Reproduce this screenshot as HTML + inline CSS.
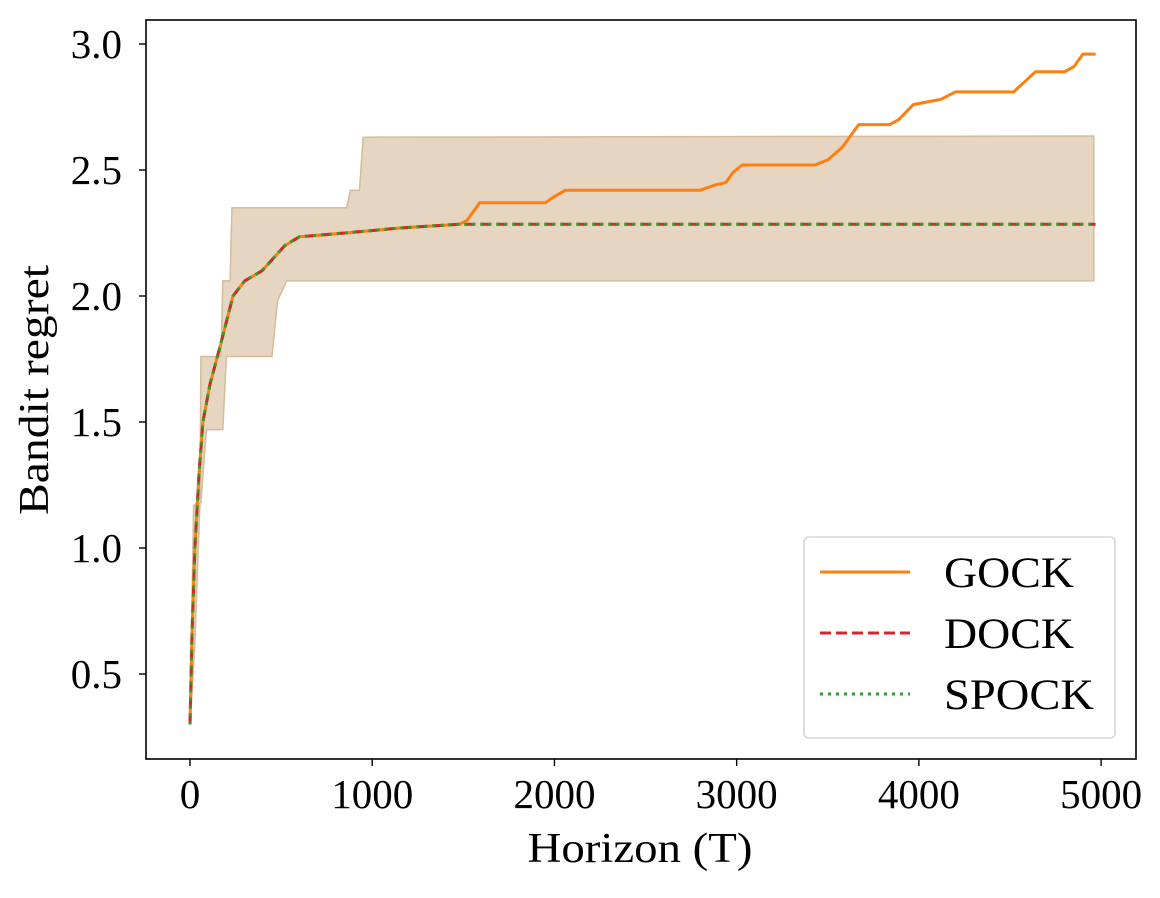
<!DOCTYPE html>
<html><head><meta charset="utf-8"><style>
body{margin:0;background:#fff;}
svg text{font-family:"Liberation Serif",serif;fill:#000;}
</style></head><body>
<svg id="chart" width="1160" height="893" viewBox="0 0 1160 893" xmlns="http://www.w3.org/2000/svg">
<g id="plot"></g>
</svg>
<script>
const xTicks=[0,1000,2000,3000,4000,5000];
const yTicks=[0.5,1.0,1.5,2.0,2.5,3.0];
const meanT=[0,11,27,50,71,110,165,236,300,395,520,600,850,1150,1480,4970];
const meanV=[0.30,0.66,1.0,1.30,1.5,1.65,1.8,2.0,2.06,2.1,2.2,2.235,2.25,2.27,2.285,2.285];
const gockT=[0,11,27,50,71,110,165,236,300,395,520,600,850,1150,1480,1520,1590,1950,1990,2060,2800,2860,2880,2940,2980,3030,3430,3500,3580,3670,3840,3890,3970,4120,4200,4520,4580,4640,4800,4850,4900,4970];
const gockV=[0.30,0.66,1.0,1.30,1.5,1.65,1.8,2.0,2.06,2.1,2.2,2.235,2.25,2.27,2.285,2.30,2.37,2.37,2.39,2.42,2.42,2.435,2.44,2.45,2.49,2.52,2.52,2.54,2.59,2.68,2.68,2.70,2.76,2.78,2.81,2.81,2.85,2.89,2.89,2.91,2.96,2.96];
const upT=[0,20,25,55,60,170,180,220,230,860,880,930,950,4960];
const upV=[0.3,1.17,1.17,1.2,1.76,1.76,2.06,2.06,2.35,2.35,2.42,2.42,2.63,2.635];
const loT=[0,25,55,60,90,180,200,450,480,530,560,4960];
const loV=[0.3,0.6,1.18,1.18,1.47,1.47,1.76,1.76,1.98,2.06,2.06,2.06];

const X0=146,X1=1136,Y0=20,Y1=759;
const sx=t=>190+t*0.18222;
const sy=v=>296-(v-2)*252;
const NS='http://www.w3.org/2000/svg';
const g=document.getElementById('plot');
function mk(tag,attrs){const e=document.createElementNS(NS,tag);for(const k in attrs)e.setAttribute(k,attrs[k]);g.appendChild(e);return e;}
function pts(T,V){return T.map((t,i)=>sx(t).toFixed(1)+','+sy(V[i]).toFixed(1));}

let bandPts=pts(upT,upV).concat(pts(loT,loV).reverse());
const band=mk('polygon',{points:bandPts.join(' '),fill:'#e5d5c1',stroke:'#d4bc9c','stroke-width':1.5});



const gock=mk('polyline',{points:pts(gockT,gockV).join(' '),fill:'none',stroke:'#ff7f0e','stroke-width':3,'stroke-linejoin':'round'});


const dock=mk('polyline',{points:pts(meanT,meanV).join(' '),fill:'none',stroke:'#d62728','stroke-width':3,'stroke-dasharray':'11,5'});


const spock=mk('polyline',{points:pts(meanT,meanV).join(' '),fill:'none',stroke:'#2ca02c','stroke-width':3,'stroke-dasharray':'3,5'});



const frame=mk('rect',{x:X0,y:Y0,width:X1-X0,height:Y1-Y0,fill:'none',stroke:'#000','stroke-width':1.6});



xTicks.forEach(t=>{
  const l=mk('line',{x1:sx(t),x2:sx(t),y1:Y1,y2:Y1+7,stroke:'#000','stroke-width':1.4});
  
  
  const tx=mk('text',{x:sx(t),y:808,'text-anchor':'middle','font-size':41});
  tx.textContent=String(t);
  
  
});
yTicks.forEach(v=>{
  const l=mk('line',{x1:X0-7,x2:X0,y1:sy(v),y2:sy(v),stroke:'#000','stroke-width':1.4});
  
  
  const tx=mk('text',{x:X0-24,y:sy(v)+14,'text-anchor':'end','font-size':41});
  tx.textContent=v.toFixed(1);
  
  
});
const xt=mk('text',{x:640,y:862,'text-anchor':'middle','font-size':42,textLength:225,lengthAdjust:'spacingAndGlyphs'});
xt.textContent='Horizon (T)';


const yt=mk('text',{x:48,y:390,'text-anchor':'middle','font-size':42,textLength:250,lengthAdjust:'spacingAndGlyphs',transform:'rotate(-90 48 390)'});
yt.textContent='Bandit regret';



const lg=mk('rect',{x:804,y:537,width:311,height:201,rx:5,fill:'#fff','fill-opacity':0.85,stroke:'#d5d5d5','stroke-width':1.6});


const leg=[['GOCK','#ff7f0e','none',572,130],['DOCK','#d62728','11,5',633,130],['SPOCK','#2ca02c','3,5',694,150]];
leg.forEach(([n,c,d,y,w])=>{
  const l=mk('line',{x1:820,x2:910,y1:y,y2:y,stroke:c,'stroke-width':3,'stroke-dasharray':d});
  
  
  const t=mk('text',{x:944,y:y+15,'font-size':43,textLength:w,lengthAdjust:'spacingAndGlyphs'});
  t.textContent=n;
  
  
});
</script>
</body></html>
